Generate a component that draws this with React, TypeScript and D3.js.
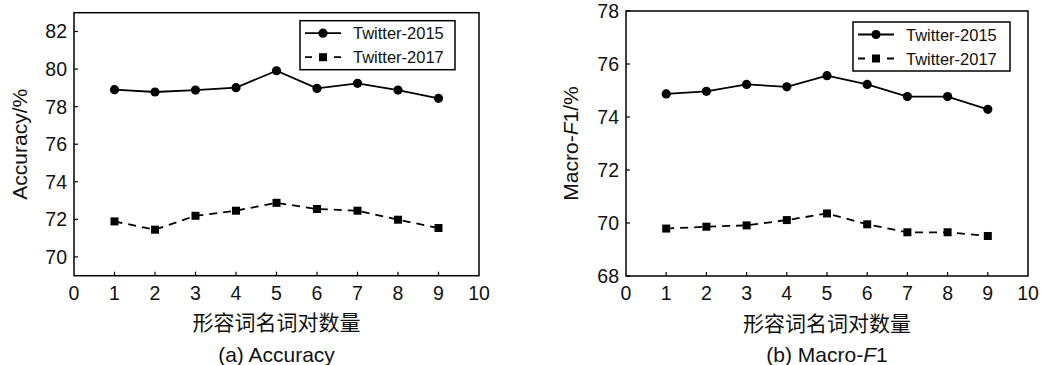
import * as d3 from "d3";

const xValues = [1, 2, 3, 4, 5, 6, 7, 8, 9];
const xTicks = [0, 1, 2, 3, 4, 5, 6, 7, 8, 9, 10];
const seriesNames = ["Twitter-2015", "Twitter-2017"];

const accuracy2015 = [78.9, 78.78, 78.88, 79.01, 79.91, 78.97, 79.24, 78.88, 78.44];
const accuracy2017 = [71.89, 71.45, 72.19, 72.46, 72.88, 72.55, 72.46, 71.98, 71.54];
const accuracyTicks = [70, 72, 74, 76, 78, 80, 82];

const macro2015 = [74.87, 74.97, 75.23, 75.14, 75.56, 75.23, 74.77, 74.77, 74.29];
const macro2017 = [69.79, 69.86, 69.91, 70.11, 70.36, 69.95, 69.65, 69.65, 69.51];
const macroTicks = [68, 70, 72, 74, 76, 78];

const FONT = "'Liberation Sans', Arial, Helvetica, sans-serif";
const CJK = "'Noto Sans CJK SC', 'Liberation Sans', sans-serif";

type PanelProps = {
  left: number;
  right: number;
  top: number;
  bottom: number;
  yDomain: [number, number];
  yTicks: number[];
  s1: number[];
  s2: number[];
  yLabel: React.ReactNode;
  yLabelX: number;
  caption: React.ReactNode;
  legendX: number;
  legendY: number;
  legendW: number;
};

function Panel(p: PanelProps) {
  const x = d3.scaleLinear().domain([0, 10]).range([p.left, p.right]);
  const y = d3.scaleLinear().domain(p.yDomain).range([p.bottom, p.top]);
  const line = d3
    .line<number>()
    .x((_, i) => x(xValues[i]))
    .y((d) => y(d));
  const cx = (p.left + p.right) / 2;
  const cy = (p.top + p.bottom) / 2;
  const tick = 4;

  return (
    <g>
      {/* ticks, inward */}
      {xTicks.slice(1, -1).map((t) => (
        <line key={"xt" + t} x1={x(t)} x2={x(t)} y1={p.bottom} y2={p.bottom - tick} stroke="#000" strokeWidth={1.2} />
      ))}
      {p.yTicks.map((t) => (
        <line key={"yt" + t} x1={p.left} x2={p.left + tick} y1={y(t)} y2={y(t)} stroke="#000" strokeWidth={1.2} />
      ))}
      <rect x={p.left} y={p.top} width={p.right - p.left} height={p.bottom - p.top} fill="none" stroke="#000" strokeWidth={1.5} />

      {xTicks.map((t) => (
        <text key={"xl" + t} x={x(t)} y={p.bottom + 24} textAnchor="middle" fontSize={19.5} fontFamily={FONT} fill="#111">
          {t}
        </text>
      ))}
      {p.yTicks.map((t) => (
        <text key={"yl" + t} x={p.left - 7} y={y(t) + 7} textAnchor="end" fontSize={19.5} fontFamily={FONT} fill="#111">
          {t}
        </text>
      ))}

      <text
        transform={`translate(${p.yLabelX},${cy}) rotate(-90)`}
        textAnchor="middle"
        fontSize={21}
        fontFamily={FONT}
        fill="#111"
        dy={7.5}
      >
        {p.yLabel}
      </text>
      <text x={cx} y={p.bottom + 54.5} textAnchor="middle" fontSize={21} fontFamily={CJK} fill="#111">
        形容词名词对数量
      </text>
      <text x={cx} y={p.bottom + 86} textAnchor="middle" fontSize={21} fontFamily={FONT} fill="#111">
        {p.caption}
      </text>

      {/* series */}
      <path d={line(p.s1) ?? ""} fill="none" stroke="#000" strokeWidth={1.8} />
      <path d={line(p.s2) ?? ""} fill="none" stroke="#000" strokeWidth={1.8} strokeDasharray="8,6" />
      {p.s1.map((v, i) => (
        <circle key={"c" + i} cx={x(xValues[i])} cy={y(v)} r={4.6} fill="#000" />
      ))}
      {p.s2.map((v, i) => (
        <rect key={"s" + i} x={x(xValues[i]) - 4} y={y(v) - 4} width={8} height={8} fill="#000" />
      ))}

      {/* legend */}
      <g transform={`translate(${p.legendX},${p.legendY})`}>
        <rect x={0} y={0} width={p.legendW} height={49} fill="#fff" stroke="#000" strokeWidth={1.5} />
        <line x1={5} x2={41} y1={12.5} y2={12.5} stroke="#000" strokeWidth={1.8} />
        <circle cx={23} cy={12.5} r={4.6} fill="#000" />
        <line x1={5} x2={41} y1={36.5} y2={36.5} stroke="#000" strokeWidth={1.8} strokeDasharray="7,7.5" />
        <rect x={19} y={32.5} width={8} height={8} fill="#000" />
        <text x={53} y={18.5} fontSize={16.5} fontFamily={FONT} fill="#111">
          {seriesNames[0]}
        </text>
        <text x={53} y={42.5} fontSize={16.5} fontFamily={FONT} fill="#111">
          {seriesNames[1]}
        </text>
      </g>
    </g>
  );
}

export default function App() {
  return (
    <svg
      width={1042}
      height={365}
      style={{ position: "absolute", left: 0, top: 0, background: "#fff" }}
    >
      <rect width={1042} height={365} fill="#fff" />
      <Panel
        left={74}
        right={479}
        top={12.7}
        bottom={275.7}
        yDomain={[69, 83]}
        yTicks={accuracyTicks}
        s1={accuracy2015}
        s2={accuracy2017}
        yLabel="Accuracy/%"
        yLabelX={19}
        caption="(a) Accuracy"
        legendX={300}
        legendY={20.7}
        legendW={155}
      />
      <Panel
        left={626}
        right={1028}
        top={11}
        bottom={276}
        yDomain={[68, 78]}
        yTicks={macroTicks}
        s1={macro2015}
        s2={macro2017}
        yLabel={
          <>
            Macro-<tspan fontStyle="italic">F</tspan>1/%
          </>
        }
        yLabelX={570}
        caption={
          <>
            (b) Macro-<tspan fontStyle="italic">F</tspan>1
          </>
        }
        legendX={853}
        legendY={22}
        legendW={157}
      />
    </svg>
  );
}
